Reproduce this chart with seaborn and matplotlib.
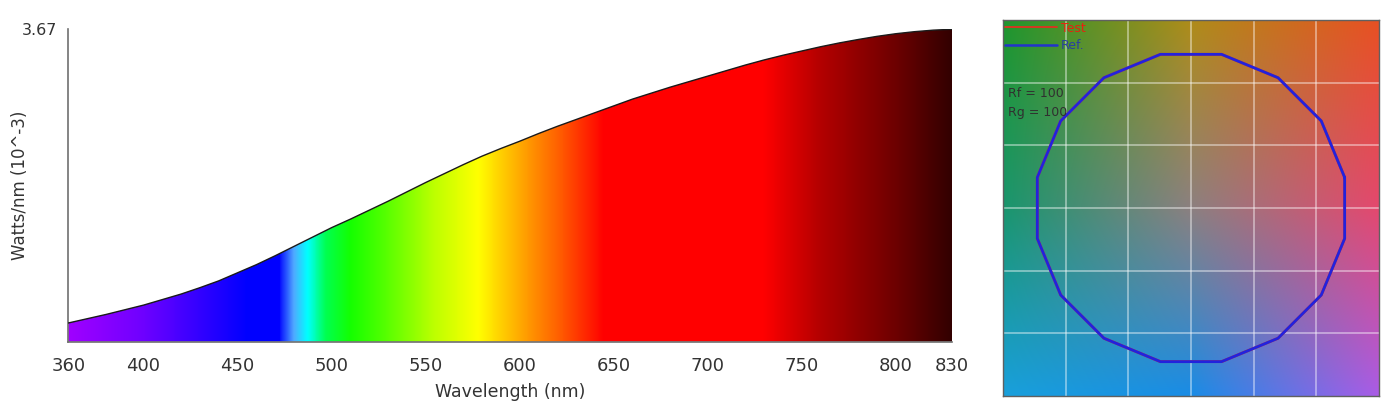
import numpy as np
import pandas as pd
import matplotlib
matplotlib.use("Agg")
import matplotlib.pyplot as plt
import seaborn as sns
from matplotlib.colors import LinearSegmentedColormap
from matplotlib.lines import Line2D

# ---------------- data ----------------
wavelength_nm = [360, 370, 380, 390, 400, 410, 420, 430, 440, 450, 460, 470, 480, 490,
                 500, 510, 520, 530, 540, 550, 560, 570, 580, 590, 600, 610, 620, 630,
                 640, 650, 660, 670, 680, 690, 700, 710, 720, 730, 740, 750, 760, 770,
                 780, 790, 800, 810, 820, 830]
watts_per_nm = [0.22, 0.27, 0.32, 0.375, 0.43, 0.495, 0.56, 0.635, 0.715, 0.81, 0.905, 1.01,
                1.12, 1.23, 1.34, 1.44, 1.545, 1.65, 1.76, 1.87, 1.975, 2.08, 2.18, 2.27,
                2.355, 2.445, 2.53, 2.61, 2.69, 2.77, 2.85, 2.92, 2.99, 3.055, 3.12, 3.185,
                3.25, 3.31, 3.365, 3.415, 3.465, 3.51, 3.55, 3.587, 3.618, 3.642, 3.66, 3.67]
x_ticks = [360, 400, 450, 500, 550, 600, 650, 700, 750, 800, 830]
y_max = 3.67

hue_bin_deg = [11.25, 33.75, 56.25, 78.75, 101.25, 123.75, 146.25, 168.75,
               191.25, 213.75, 236.25, 258.75, 281.25, 303.75, 326.25, 348.75]
ref_chroma = [1.0] * 16
test_chroma = [1.0] * 16
rf_value = 100
rg_value = 100

# spectrum colour stops (wavelength -> rgb)
spec_stops_nm = [360, 400, 440, 455, 472, 480, 487, 497, 510, 530, 555, 578, 600, 625, 645, 730, 760, 800, 830]
spec_stops_rgb = [(160, 0, 255), (110, 0, 255), (30, 0, 255), (0, 0, 255), (0, 0, 255),
                  (80, 170, 255), (0, 255, 255), (0, 255, 80), (20, 255, 0), (90, 255, 0),
                  (190, 255, 0), (255, 255, 0), (255, 170, 0), (255, 80, 0), (255, 0, 0),
                  (255, 0, 0), (180, 0, 0), (110, 0, 0), (50, 0, 0)]

# background colours for the vector graphic (3x3 grid, top row first)
bg_grid_rgb = [
    [(30, 150, 45), (175, 140, 25), (232, 80, 35)],
    [(25, 150, 110), (140, 128, 128), (228, 72, 110)],
    [(25, 160, 220), (25, 140, 230), (170, 92, 230)],
]

# ---------------- figure ----------------
sns.set_theme(style="white")
plt.rcParams['font.family'] = ['DejaVu Sans']
fig = plt.figure(figsize=(14, 4.13), dpi=100)

# ---- left: spectrum ----
ax = fig.add_axes([0.0488, 0.1726, 0.6314, 0.7565])
df = pd.DataFrame({"wl": wavelength_nm, "w": watts_per_nm})

span = spec_stops_nm[-1] - spec_stops_nm[0]
cmap = LinearSegmentedColormap.from_list(
    "spec", [((s - spec_stops_nm[0]) / span, tuple(c / 255 for c in rgb))
             for s, rgb in zip(spec_stops_nm, spec_stops_rgb)], N=1024)
grad = np.linspace(0, 1, 1000).reshape(1, -1)
poly = ax.fill_between(df["wl"], df["w"], 0, facecolor="none", edgecolor="none")
im = ax.imshow(grad, cmap=cmap, aspect="auto", extent=[360, 830, 0, y_max],
               origin="lower", interpolation="bilinear", zorder=1)
im.set_clip_path(poly.get_paths()[0], transform=ax.transData)
sns.lineplot(data=df, x="wl", y="w", ax=ax, color="#1a1a1a", lw=1.0, zorder=3)

ax.set_xlim(360, 830)
ax.set_ylim(0, y_max)
ax.set_xticks(x_ticks)
ax.set_xticklabels([str(t) for t in x_ticks], fontsize=13, color="#333333")
ax.set_yticks([0, y_max])
ax.set_yticklabels(["", f"{y_max:.2f}"], fontsize=11.5, color="#333333")
ax.tick_params(axis="x", direction="out", length=3, width=1, color="#707070", pad=8)
ax.tick_params(axis="y", direction="out", length=4, width=1, color="#707070", pad=4)
ax.set_xlabel("Wavelength (nm)", fontsize=12.5, color="#333333", labelpad=6)
ax.set_ylabel("Watts/nm (10^-3)", fontsize=12, color="#333333")
ax.yaxis.set_label_coords(-0.044, 0.5)
for s in ["top", "right"]:
    ax.spines[s].set_visible(False)
for s in ["left", "bottom"]:
    ax.spines[s].set_color("#707070")
    ax.spines[s].set_linewidth(1.2)

# ---- right: colour vector graphic ----
ax2 = fig.add_axes([0.7164, 0.0412, 0.2686, 0.9104])
lim = 1.2
g = np.array(bg_grid_rgb, dtype=float) / 255.0
n = 300
u = np.linspace(0, 2, n)
i0 = np.clip(np.floor(u).astype(int), 0, 1)
f = u - i0
img = np.zeros((n, n, 3))
rr = i0[:, None]; fr = f[:, None]
cc = i0[None, :]; fc = f[None, :]
for k in range(3):
    gk = g[:, :, k]
    top = gk[rr, cc] * (1 - fc) + gk[rr, cc + 1] * fc
    bot = gk[rr + 1, cc] * (1 - fc) + gk[rr + 1, cc + 1] * fc
    img[:, :, k] = top * (1 - fr) + bot * fr
ax2.imshow(img, extent=[-lim, lim, -lim, lim], origin="upper", aspect="auto",
           interpolation="bilinear", zorder=0)

ang = np.deg2rad(np.array(hue_bin_deg + hue_bin_deg[:1]))
rc = np.array(ref_chroma + ref_chroma[:1])
tc = np.array(test_chroma + test_chroma[:1])
test_df = pd.DataFrame({"x": tc * np.cos(ang), "y": tc * np.sin(ang)})
ref_df = pd.DataFrame({"x": rc * np.cos(ang), "y": rc * np.sin(ang)})
sns.lineplot(data=test_df, x="x", y="y", sort=False, estimator=None, ax=ax2,
             color="#e03020", lw=2.0, zorder=3)
sns.lineplot(data=ref_df, x="x", y="y", sort=False, estimator=None, ax=ax2,
             color="#2222dd", lw=2.0, zorder=4)

ax2.set_xlim(-lim, lim)
ax2.set_ylim(-lim, lim)
grid_vals = [-0.8, -0.4, 0, 0.4, 0.8]
for v in grid_vals:
    ax2.axvline(v, color="white", alpha=0.45, lw=1.3, zorder=2)
    ax2.axhline(v, color="white", alpha=0.45, lw=1.3, zorder=2)
ax2.set_xticks([])
ax2.set_yticks([])
ax2.set_xlabel("")
ax2.set_ylabel("")
for s in ax2.spines.values():
    s.set_color("#606060")
    s.set_linewidth(1.0)

handles = [Line2D([0], [0], color="#e03020", lw=1.3),
           Line2D([0], [0], color="#2233cc", lw=1.8)]
leg = ax2.legend(handles, ["Test", "Ref."], loc="upper left", frameon=False,
                 fontsize=9, handlelength=4.2, handletextpad=0.3,
                 borderaxespad=0.05, borderpad=0.1, labelspacing=0.35)
leg.get_texts()[0].set_color("#e82010")
leg.get_texts()[1].set_color("#2a3fa0")
leg.set_zorder(6)

ax2.text(0.013, 0.805, f"Rf = {rf_value}", transform=ax2.transAxes, fontsize=9,
         color="#303030", va="center", ha="left", zorder=6)
ax2.text(0.013, 0.755, f"Rg = {rg_value}", transform=ax2.transAxes, fontsize=9,
         color="#303030", va="center", ha="left", zorder=6)

fig.savefig("out.png", dpi=100)
